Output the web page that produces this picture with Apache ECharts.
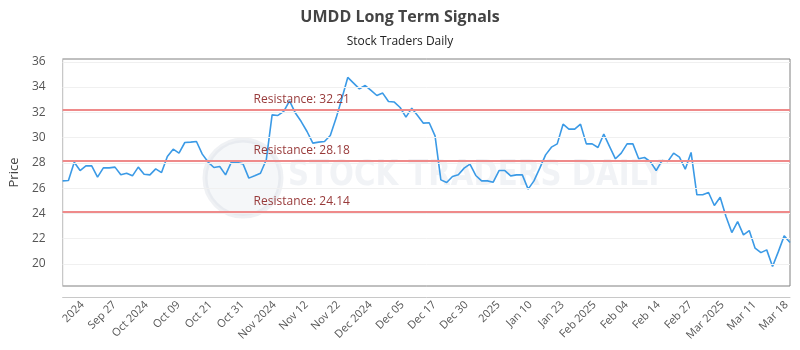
<!DOCTYPE html>
<html>
<head>
<meta charset="utf-8">
<script src="https://cdn.jsdelivr.net/npm/echarts@6/dist/echarts.min.js"></script>
<style>html,body{margin:0;padding:0;background:#fff}#c{width:800px;height:350px}</style>
</head>
<body>
<div id="c"></div>
<script>
var dates = [
 '2024-09-17','2024-09-18','2024-09-19','2024-09-20','2024-09-23','2024-09-24','2024-09-25','2024-09-26','2024-09-27','2024-09-30',
 '2024-10-01','2024-10-02','2024-10-03','2024-10-04','2024-10-07','2024-10-08','2024-10-09','2024-10-10','2024-10-11','2024-10-14',
 '2024-10-15','2024-10-16','2024-10-17','2024-10-18','2024-10-21','2024-10-22','2024-10-23','2024-10-24','2024-10-25','2024-10-28',
 '2024-10-29','2024-10-30','2024-10-31',
 '2024-11-01','2024-11-04','2024-11-05','2024-11-06','2024-11-07','2024-11-08','2024-11-11','2024-11-12','2024-11-13','2024-11-14',
 '2024-11-15','2024-11-18','2024-11-19','2024-11-20','2024-11-21','2024-11-22','2024-11-25','2024-11-26','2024-11-27','2024-11-29',
 '2024-12-02','2024-12-03','2024-12-04','2024-12-05','2024-12-06','2024-12-09','2024-12-10','2024-12-11','2024-12-12','2024-12-13',
 '2024-12-16','2024-12-17','2024-12-18','2024-12-19','2024-12-20','2024-12-23','2024-12-24','2024-12-26','2024-12-27','2024-12-30',
 '2024-12-31',
 '2025-01-02','2025-01-03','2025-01-06','2025-01-07','2025-01-08','2025-01-10','2025-01-13','2025-01-14','2025-01-15','2025-01-16',
 '2025-01-17','2025-01-21','2025-01-22','2025-01-23','2025-01-24','2025-01-27','2025-01-28','2025-01-29','2025-01-30','2025-01-31',
 '2025-02-03','2025-02-04','2025-02-05','2025-02-06','2025-02-07','2025-02-10','2025-02-11','2025-02-12','2025-02-13','2025-02-14',
 '2025-02-18','2025-02-19','2025-02-20','2025-02-21','2025-02-24','2025-02-25','2025-02-26','2025-02-27','2025-02-28',
 '2025-03-03','2025-03-04','2025-03-05','2025-03-06','2025-03-07','2025-03-10','2025-03-11','2025-03-12','2025-03-13','2025-03-14',
 '2025-03-17','2025-03-18','2025-03-19'
];
var prices = [
 26.57,26.60,28.05,27.39,27.76,27.76,26.87,27.60,27.60,27.66,
 27.05,27.18,26.97,27.66,27.10,27.05,27.52,27.23,28.50,29.08,
 28.77,29.61,29.64,29.69,28.69,28.06,27.63,27.71,27.05,28.06,
 28.03,27.92,26.79,26.97,27.18,28.24,31.80,31.75,32.07,32.91,
 31.94,31.27,30.48,29.56,29.64,29.69,30.16,31.54,33.12,34.76,
 34.31,33.86,34.12,33.73,33.33,33.52,32.86,32.81,32.38,31.62,
 32.33,31.75,31.14,31.17,30.14,26.65,26.44,26.92,27.05,27.58,
 27.90,27.00,26.57,26.57,26.47,27.39,27.39,26.97,27.05,27.05,
 25.92,26.57,27.58,28.63,29.24,29.50,31.06,30.67,30.67,31.06,
 29.50,29.50,29.21,30.27,29.29,28.32,28.77,29.50,29.50,28.32,
 28.42,28.10,27.39,28.18,28.10,28.77,28.45,27.50,28.82,25.47,
 25.47,25.65,24.62,25.28,23.75,22.48,23.35,22.30,22.64,21.24,
 20.89,21.11,19.79,20.97,22.22,21.69
];
var resistance = [32.21, 28.18, 24.14];
var yTicks = [20, 22, 24, 26, 28, 30, 32, 34, 36];
var xTickLabels = ['2024','Sep 27','Oct 2024','Oct 09','Oct 21','Oct 31','Nov 2024','Nov 12','Nov 22','Dec 2024','Dec 05','Dec 17','Dec 30','2025','Jan 10','Jan 23','Feb 2025','Feb 04','Feb 14','Feb 27','Mar 2025','Mar 11','Mar 18'];

// label slots along the index axis (layout only)
var xTickPos = xTickLabels.map(function (_, k) { return 3.4 + 5.5 * k; });
var lastIdx = dates.length - 1;

var chart = echarts.init(document.getElementById('c'));
chart.setOption({
  animation: false,
  backgroundColor: '#fff',
  title: [
    { text: 'UMDD Long Term Signals', left: 'center', top: 4,
      textStyle: { fontFamily: 'Open Sans', fontSize: 16, fontWeight: 'bold', color: '#444' } },
    { text: 'Stock Traders Daily', left: 'center', top: 31,
      textStyle: { fontFamily: 'Open Sans', fontSize: 12, fontWeight: 'normal', color: '#222' } }
  ],
  graphic: [
    { type: 'circle', shape: { cx: 243, cy: 178, r: 38 }, z: 0, silent: true,
      style: { fill: 'rgba(215,222,230,0.25)', stroke: 'rgba(205,212,222,0.32)', lineWidth: 5 } },
    { type: 'text', left: 288, top: 158, z: 0, silent: true,
      style: { text: 'STOCK TRADERS DAILY', fontFamily: 'DejaVu Sans Condensed', fontWeight: 'bold', fontSize: 35,
               fill: 'rgba(210,218,228,0.32)' }, scaleX: 0.93 }
  ],
  grid: { left: 60, right: 10, top: 59, bottom: 64, show: true, borderColor: '#808080', borderWidth: 1, backgroundColor: 'transparent' },
  xAxis: [
    { type: 'category', data: dates, boundaryGap: false, position: 'bottom',
      axisLine: { show: false }, axisTick: { show: false }, axisLabel: { show: false }, splitLine: { show: false } },
    { type: 'value', min: 0, max: lastIdx, position: 'bottom', offset: 11,
      axisLine: { show: true, lineStyle: { color: '#c8c8c8', width: 1 } },
      axisTick: { show: false },
      splitLine: { show: false },
      axisLabel: { customValues: xTickPos, rotate: 45, margin: 6, fontFamily: 'Open Sans', fontSize: 11, color: '#555',
        formatter: function (v) {
          for (var k = 0; k < xTickPos.length; k++) { if (Math.abs(xTickPos[k] - v) < 1e-6) return xTickLabels[k]; }
          return '';
        } } }
  ],
  yAxis: {
    type: 'value', min: 18.25, max: 36.22, offset: 10,
    name: 'Price', nameLocation: 'middle', nameGap: 30,
    nameTextStyle: { fontFamily: 'Open Sans', fontSize: 13, color: '#444' },
    axisLine: { show: true, lineStyle: { color: '#c8c8c8', width: 1 } },
    axisTick: { show: false, customValues: yTicks },
    axisLabel: { customValues: yTicks, margin: 7, fontFamily: 'Open Sans', fontSize: 12, color: '#555' },
    splitLine: { show: false }
  },
  series: [
    { type: 'line', data: yTicks.map(function () { return null; }), silent: true, showSymbol: false,
      markLine: { silent: true, symbol: 'none', label: { show: false },
        lineStyle: { color: '#f0f0f0', width: 1, type: 'solid' },
        data: yTicks.map(function (t) { return { yAxis: t }; }) } },
    { type: 'line', name: 'UMDD', data: prices, showSymbol: false, smooth: false, z: 3,
      lineStyle: { color: '#3b9ae6', width: 1.6 },
      markLine: { silent: true, symbol: 'none',
        lineStyle: { color: '#ef8a8a', width: 2, type: 'solid' },
        label: { show: true, position: 'insideStartTop', distance: 4, padding: [0, 0, 0, 187],
          fontFamily: 'Open Sans', fontSize: 12, color: '#983a3a',
          formatter: function (p) { return 'Resistance: ' + p.value.toFixed(2); } },
        data: resistance.map(function (r) { return { yAxis: r }; }) } }
  ]
});
</script>
</body>
</html>
